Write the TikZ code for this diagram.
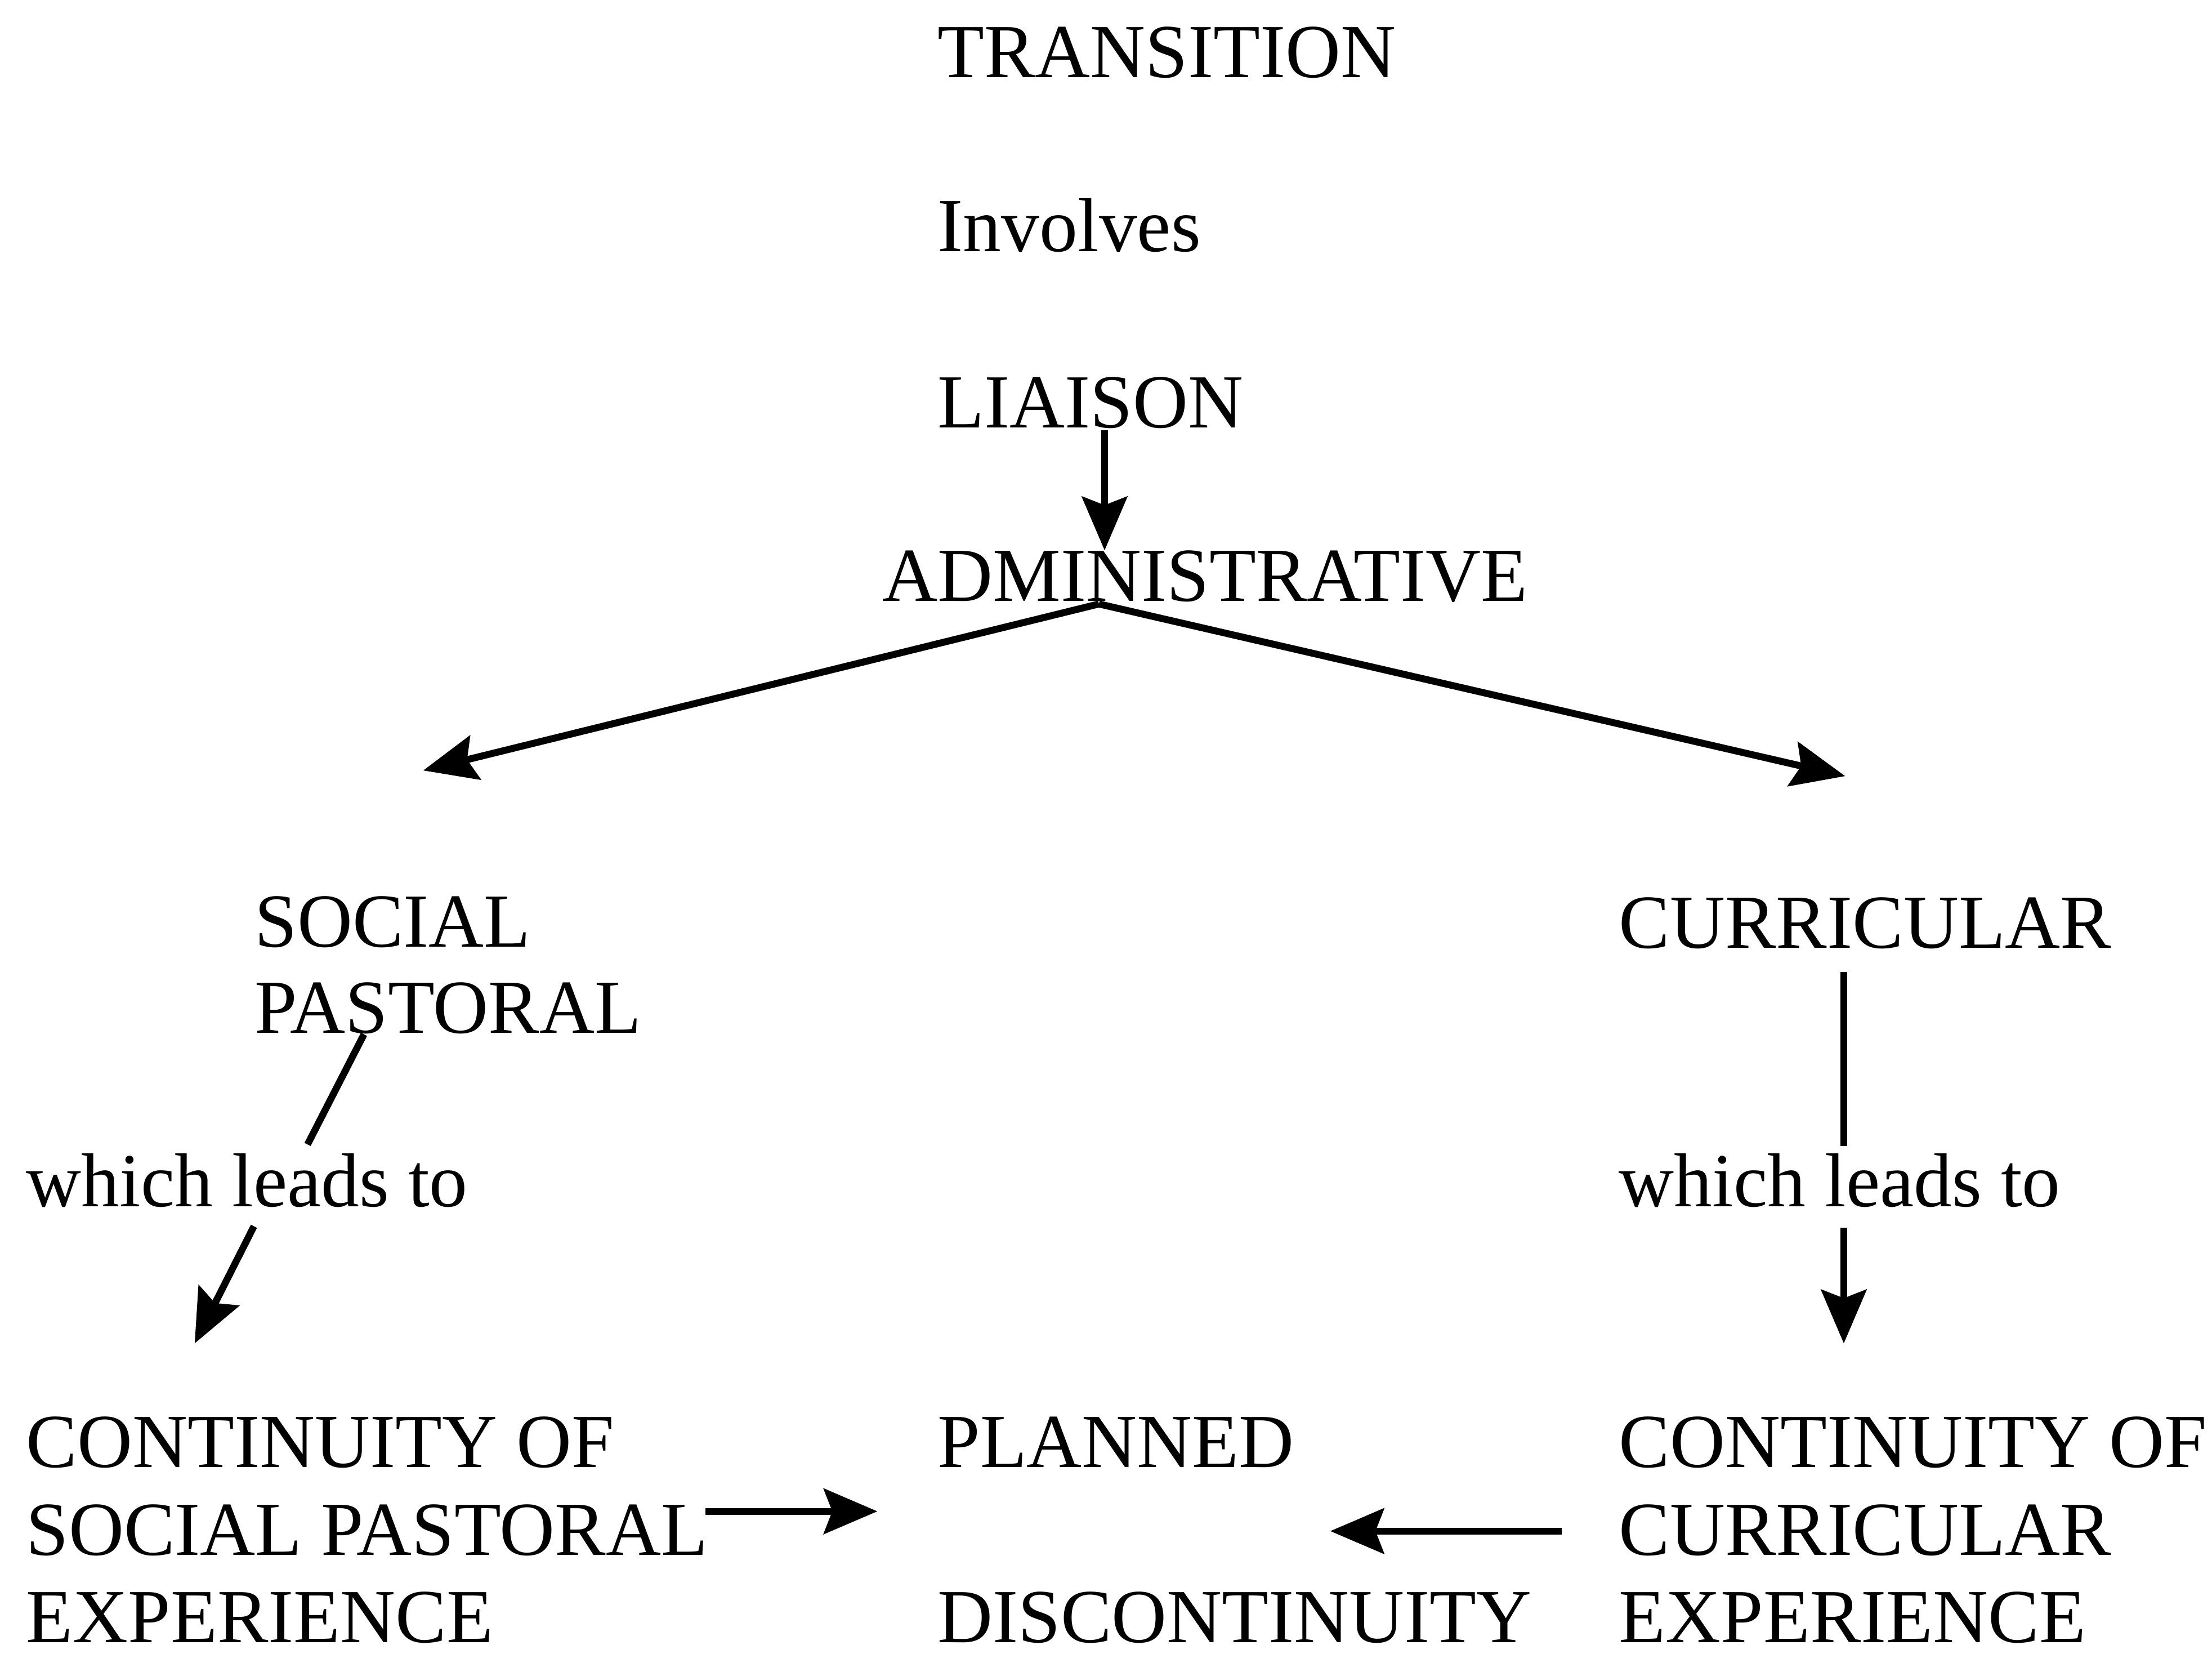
\documentclass[tikz,border=0pt]{standalone}
\usepackage{fontspec}
\setmainfont{Liberation Serif}
\usetikzlibrary{arrows.meta}
\begin{document}
\begin{tikzpicture}[x=0.01cm,y=-0.01cm,
  lbl/.style={anchor=base west, inner sep=0pt, font=\fontsize{15.4}{18}\selectfont},
  link/.style={line width=1.4pt},
  arr/.style={link, -{Stealth[length=0.38cm, width=0.32cm, inset=0.06cm]}}]
\useasboundingbox (0,0) rectangle (1568,1172);

% top column
\node[lbl] (transition) at (664,55)  {TRANSITION};
\node[lbl] (involves)   at (664,178) {Involves};
\node[lbl] (liaison)    at (664,303) {LIAISON};
\node[lbl] (admin)      at (625,426) {ADMINISTRATIVE};

% two branches
\node[lbl] (social)     at (180,671) {SOCIAL};
\node[lbl] (pastoral)   at (180,732) {PASTORAL};
\node[lbl] (curricular) at (1147,672) {CURRICULAR};
\node[lbl] (leadsL)     at (18,855)   {which leads to};
\node[lbl] (leadsR)     at (1147,855) {which leads to};

% bottom row
\node[lbl] (contLa) at (18,1040) {CONTINUITY OF};
\node[lbl] (contLb) at (18,1102) {SOCIAL PASTORAL};
\node[lbl] (contLc) at (18,1164) {EXPERIENCE};
\node[lbl] (planned)  at (664,1040) {PLANNED};
\node[lbl] (discont)  at (664,1164) {DISCONTINUITY};
\node[lbl] (contRa) at (1147,1040) {CONTINUITY OF};
\node[lbl] (contRb) at (1147,1102) {CURRICULAR};
\node[lbl] (contRc) at (1147,1164) {EXPERIENCE};

% connector end points
\coordinate (liaisonOut) at (783,305);
\coordinate (adminIn)    at (783,390);
\coordinate (adminOut)   at (779,428);
\coordinate (socialIn)   at (300,546);
\coordinate (currIn)     at (1308,550);
\coordinate (pastOut)    at (258,733);
\coordinate (leadsLin)   at (218,811);
\coordinate (leadsLout)  at (180,869);
\coordinate (contLin)    at (138,952);
\coordinate (currOut)    at (1307,689);
\coordinate (leadsRin)   at (1307,812);
\coordinate (leadsRout)  at (1307,870);
\coordinate (contRin)    at (1307,952);
\coordinate (contLout)   at (500,1071);
\coordinate (plannedL)   at (622,1071);
\coordinate (contRout)   at (1107,1085);
\coordinate (plannedR)   at (943,1085);

% connectors
\draw[arr]  (liaisonOut) -- (adminIn);
\draw[arr]  (adminOut) -- (socialIn);
\draw[arr]  (adminOut) -- (currIn);
\draw[link] (pastOut) -- (leadsLin);
\draw[arr]  (leadsLout) -- (contLin);
\draw[link] (currOut) -- (leadsRin);
\draw[arr]  (leadsRout) -- (contRin);
\draw[arr]  (contLout) -- (plannedL);
\draw[arr]  (contRout) -- (plannedR);
\end{tikzpicture}
\end{document}
